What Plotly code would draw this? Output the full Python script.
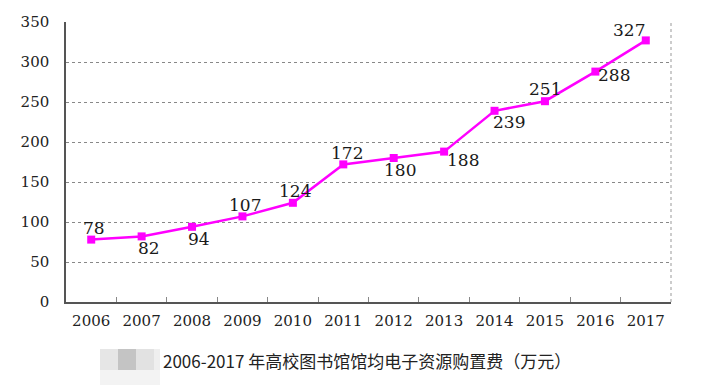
import plotly.graph_objects as go

years = ["2006", "2007", "2008", "2009", "2010", "2011", "2012", "2013", "2014", "2015", "2016", "2017"]
values = [78, 82, 94, 107, 124, 172, 180, 188, 239, 251, 288, 327]
y_ticks = [0, 50, 100, 150, 200, 250, 300, 350]
title_text = "2006-2017 年高校图书馆馆均电子资源购置费（万元）"

# label offsets in pixels (style only)
label_shift = [(3, 12), (7, -12), (7, -12), (3, 11), (2, 12), (4, 11),
               (6, -12), (19, -8), (14, -11), (0, 12), (19, -3), (-17, 10)]

OFF = 8  # page body margin
L, T, W, H = 66 - OFF, 22 - OFF, 605, 280


def px(x):
    return (x - OFF - L) / W


def py(y):
    return (T + H - (y - OFF)) / H


fig = go.Figure()
fig.add_trace(go.Scatter(
    x=years, y=values, mode="lines+markers",
    line=dict(color="#FF00FF", width=2.5),
    marker=dict(symbol="square", size=8, color="#FF00FF"),
    cliponaxis=False, showlegend=False,
))

for i, (v, (dx, dy)) in enumerate(zip(values, label_shift)):
    fig.add_annotation(x=i, y=v, text=str(v), showarrow=False,
                       xshift=dx, yshift=dy,
                       font=dict(family="DejaVu Serif, serif", size=17, color="#1a1a1a"))

fig.add_annotation(x=px(161), y=py(360), xref="paper", yref="paper",
                   xanchor="left", yanchor="middle",
                   text=title_text, showarrow=False,
                   font=dict(family="Noto Sans CJK SC, sans-serif", size=17, color="#222222"))

# blurred watermark blocks
for x0, x1, col in [(100, 118, "#e6e6e6"), (118, 136, "#c4c4c4"), (136, 154, "#e2e2e2"), (154, 160, "#efefef")]:
    fig.add_shape(type="rect", xref="paper", yref="paper",
                  x0=px(x0), x1=px(x1), y0=py(370), y1=py(349),
                  line=dict(width=0), fillcolor=col, layer="above")
fig.add_shape(type="rect", xref="paper", yref="paper",
              x0=px(100), x1=px(160), y0=py(385), y1=py(370),
              line=dict(width=0), fillcolor="#f3f3f3", layer="above")

# right dotted border
fig.add_shape(type="line", xref="paper", yref="paper", x0=1, x1=1, y0=0, y1=1,
              line=dict(color="#999999", width=1, dash="dot"))

fig.update_layout(
    width=711, height=388,
    margin=dict(l=L, r=711 - L - W, t=T, b=388 - T - H, autoexpand=False),
    paper_bgcolor="white", plot_bgcolor="white",
    xaxis=dict(
        type="category", range=[-0.5, 11.5], showgrid=False, automargin=False,
        showline=True, linecolor="#555555", linewidth=1.5,
        ticks="inside", ticklen=5, tickcolor="#888888", tickson="boundaries",
        tickangle=0, ticklabelstandoff=4,
        tickfont=dict(family="DejaVu Serif, serif", size=15, color="#222222"),
    ),
    yaxis=dict(
        range=[0, 350], tickvals=y_ticks, automargin=False,
        showgrid=True, gridcolor="#888888", griddash="dot", gridwidth=1,
        showline=True, linecolor="#555555", linewidth=1.5,
        ticks="", ticklabelstandoff=12,
        tickfont=dict(family="DejaVu Serif, serif", size=15, color="#222222"),
        zeroline=False,
    ),
)

fig.write_html("out.html")
